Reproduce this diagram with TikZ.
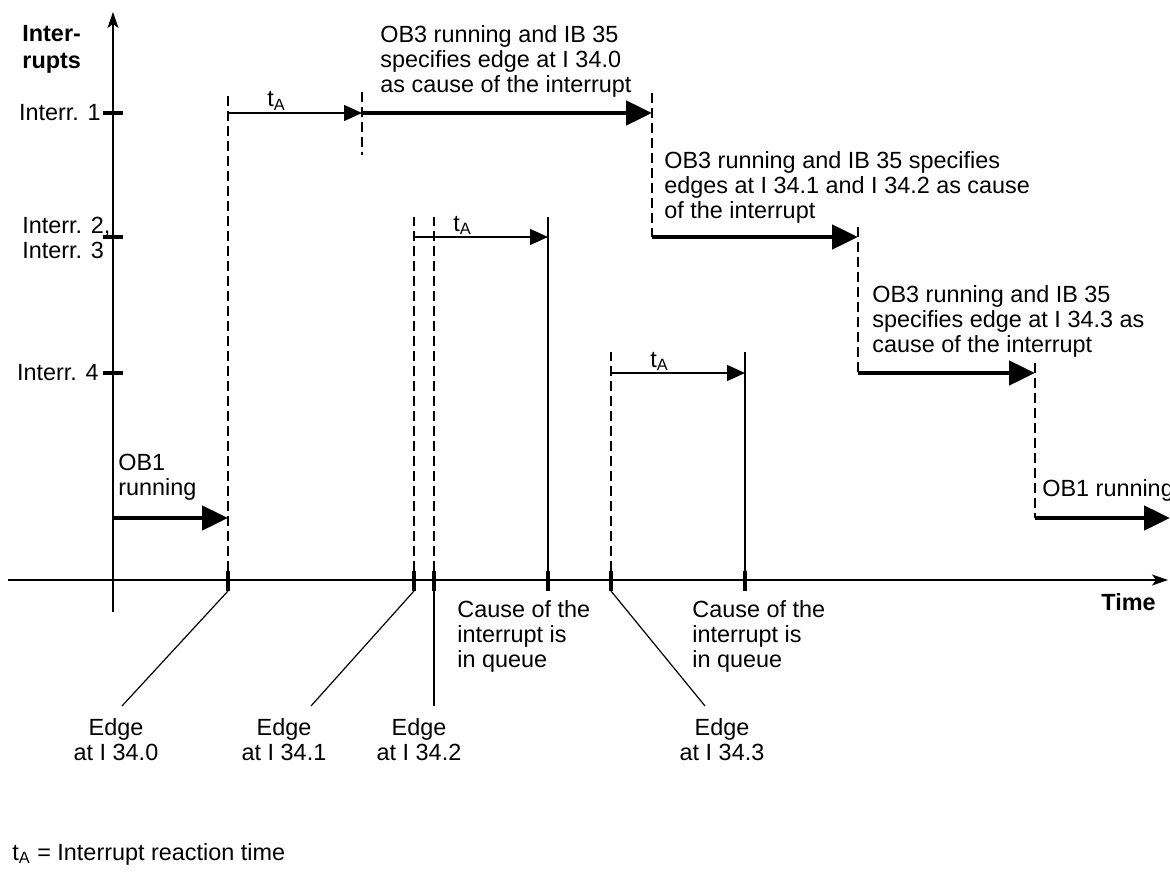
\documentclass[tikz,border=0pt]{standalone}
\usepackage{fontspec}
\setmainfont{Liberation Sans}
\usetikzlibrary{arrows.meta,calc}

\tikzset{
  lbl/.style={inner sep=0pt, font=\fontsize{11.7}{12.6}\selectfont},
  blk/.style={lbl, align=left, anchor=north west},
  edgelbl/.style={lbl, align=center, anchor=north},
  axis/.style={line width=0.6pt, -{Stealth[length=8pt,width=5.5pt,inset=2pt]}},
  run/.style={line width=2.4pt, -{Triangle[length=13pt,width=12pt]}},
  react/.style={line width=0.6pt, -{Triangle[length=9pt,width=8pt]}},
  guide/.style={line width=0.6pt, dash pattern=on 5pt off 2.5pt},
  tmark/.style={line width=2pt},
  plain/.style={line width=0.6pt}
}

\begin{document}
\begin{tikzpicture}[x=0.5pt,y=-0.5pt]
\useasboundingbox (0,0) rectangle (1170,882);

% axes
\coordinate (ybot) at (113,612);
\coordinate (ytop) at (113,12);
\coordinate (xl) at (8,580);
\coordinate (xr) at (1168,580);
\draw[axis] (ybot) -- (ytop);
\draw[axis] (xl) -- (xr);

% interrupt levels
\foreach \n/\y in {i1/113,i23/237,i4/373}{
  \coordinate (\n) at (113,\y);
  \draw[tmark] ($(\n)+(-10,0)$) -- ($(\n)+(10,0)$);
}
\coordinate (ir) at (113,518);

\node[blk, font=\fontsize{11.7}{13.5}\selectfont\bfseries] (title) at (22,25) {Inter-\\rupts};
\node[lbl, anchor=east] (li1) at (101,113) {Interr. 1};
\node[blk] (li23) at (22,217) {Interr. 2,\\Interr. 3};
\node[lbl, anchor=east] (li4) at (99,373) {Interr. 4};
\node[lbl, font=\fontsize{11.7}{12.6}\selectfont\bfseries, anchor=east] (time) at (1156,602) {Time};

% marks on the time axis
\foreach \n/\x in {e0/228,e1/414,e2/434,q1/548,e3/611,q3/745}{
  \coordinate (\n) at (\x,580);
  \draw[tmark] ($(\n)+(0,-9)$) -- ($(\n)+(0,11)$);
}

% program changes
\coordinate (s1) at (362,113);
\coordinate (s2) at (652,237);
\coordinate (s3) at (858,373);
\coordinate (s4) at (1035,518);
\coordinate (s5) at (1170,518);

% dashed guides
\draw[guide] ($(e0)+(0,-9)$) -- ($(e0|-i1)+(0,-20)$);
\draw[guide] ($(s1)+(0,-21)$) -- ($(s1)+(0,42)$);
\draw[guide] ($(s2|-i1)+(0,-20)$) -- (s2);
\draw[guide] ($(s3|-s2)+(0,-10)$) -- (s3);
\draw[guide] ($(s4|-s3)+(0,-10)$) -- (s4);
\draw[guide] ($(e1)+(0,-9)$) -- ($(e1|-i23)+(0,-20)$);
\draw[guide] ($(e2)+(0,-9)$) -- ($(e2|-i23)+(0,-20)$);
\draw[guide] ($(e3)+(0,-9)$) -- ($(e3|-i4)+(0,-21)$);
\draw[plain] (q1) -- ($(q1|-i23)+(0,-20)$);
\draw[plain] (q3) -- ($(q3|-i4)+(0,-21)$);

% running programs
\draw[run] (ir) -- (e0|-ir);
\draw[run] (s1) -- (s2|-s1);
\draw[run] (s2) -- (s3|-s2);
\draw[run] (s3) -- (s4|-s3);
\draw[run] (s4) -- (s5);

\node[blk] (ob1a) at (118,454) {OB1\\running};
\node[blk] (ob3a) at (380,25) {OB3 running and IB 35\\specifies edge at I 34.0\\as cause of the interrupt};
\node[blk] (ob3b) at (664,151) {OB3 running and IB 35 specifies\\edges at I 34.1 and I 34.2 as cause\\of the interrupt};
\node[blk] (ob3c) at (872,285) {OB3 running and IB 35\\specifies edge at I 34.3 as\\cause of the interrupt};
\node[blk] (ob1b) at (1042,479) {OB1 running};

% reaction times
\draw[react] (e0|-i1) -- (s1);
\draw[react] (e1|-i23) -- (q1|-i23);
\draw[react] (e3|-i4) -- (q3|-i4);
\node[lbl, anchor=base west] (ta1) at ($(e0|-i1)+(39,-6)$) {t\textsubscript{A}};
\node[lbl, anchor=base west] (ta2) at ($(e1|-i23)+(39,-6)$) {t\textsubscript{A}};
\node[lbl, anchor=base west] (ta3) at ($(e3|-i4)+(39,-6)$) {t\textsubscript{A}};

% edges and queue
\coordinate (c0) at (122,706);
\coordinate (c1) at (311,706);
\coordinate (c2) at (434,706);
\coordinate (c3) at (705,706);
\draw[plain] ($(e0)+(0,11)$) -- (c0);
\draw[plain] ($(e1)+(0,11)$) -- (c1);
\draw[plain] ($(e2)+(0,11)$) -- (c2);
\draw[plain] ($(e3)+(0,11)$) -- (c3);
\node[edgelbl] (ed0) at (116,718) {Edge\\at I 34.0};
\node[edgelbl] (ed1) at (284,718) {Edge\\at I 34.1};
\node[edgelbl] (ed2) at (419,718) {Edge\\at I 34.2};
\node[edgelbl] (ed3) at (722,718) {Edge\\at I 34.3};
\node[blk] (cq1) at (457,600) {Cause of the\\interrupt is\\in queue};
\node[blk] (cq3) at (692,600) {Cause of the\\interrupt is\\in queue};

\node[lbl, anchor=base west] (note) at (12,860) {t\textsubscript{A} = Interrupt reaction time};
\end{tikzpicture}
\end{document}
